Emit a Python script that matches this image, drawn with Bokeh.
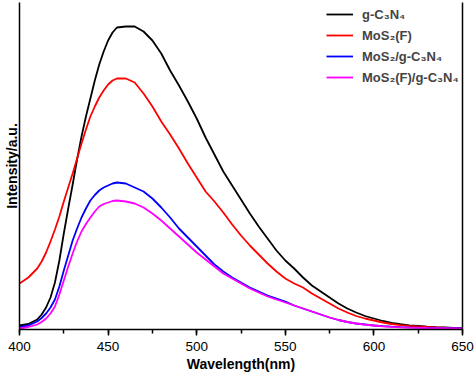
from bokeh.plotting import figure
from bokeh.models import (Range1d, LinearAxis, FixedTicker, SingleIntervalTicker,
                          Legend, LegendItem)
from bokeh.embed import file_html
from bokeh.resources import INLINE

wavelength = [400, 405, 410, 412.5, 415, 417.5, 420, 422.5, 425, 427.5,
              430, 432.5, 435, 437.5, 440, 442.5, 445, 447.5, 450, 452.5,
              455, 460, 465, 470, 475, 480, 485, 490, 495,
              500, 505, 510, 515, 520, 525, 530, 535, 540, 545,
              550, 555, 560, 565, 570, 575, 580, 585, 590, 595,
              600, 605, 610, 615, 620, 625, 630, 635, 640, 645, 650]

g_c3n4 = [3, 4.5, 9, 14, 21, 31, 46, 68, 95, 120,
          144, 169, 192, 212, 230, 248, 264, 277, 288, 296,
          301, 302, 302, 297, 288, 275, 258, 243, 227,
          210, 191, 174, 157, 143, 129, 115, 102, 90, 78,
          68, 60, 51, 43, 37, 31, 25, 20, 16, 12.5,
          10, 7.5, 5.5, 4.3, 3.2, 2.5, 1.8, 1.3, 1, 0.7, 0.5]

mos2_f = [45, 51, 60, 67, 76, 87, 99, 112, 127, 141,
          155, 170, 185, 199, 212, 222, 231, 238, 244, 248,
          250, 250, 246, 235, 222, 207, 194, 180, 165,
          151, 137, 127, 116, 104, 93, 83, 74, 65, 57,
          50, 45, 41, 35, 30, 25, 20, 16, 12.5, 10,
          8, 6, 4.5, 3.4, 2.6, 2, 1.5, 1.1, 0.8, 0.6, 0.5]

mos2_gc3n4 = [1.3, 3, 7, 10.5, 15, 21, 29, 42, 58, 73,
              88, 100, 111, 120, 128, 133.5, 138, 141, 143, 145,
              146, 145, 141, 137, 130, 121, 111, 100, 91,
              82, 73, 64, 57, 51, 46, 41, 37, 33, 30,
              27, 23, 20, 17, 14, 11, 8.5, 6.5, 5, 4,
              3, 2.3, 1.8, 1.4, 1.1, 0.9, 0.7, 0.5, 0.4, 0.3, 0.3]

mos2f_gc3n4 = [0, 1.5, 4, 6.5, 10, 15, 22, 34, 48, 62,
               75, 87, 97, 104.5, 111, 117, 122, 124.5, 126, 127.5,
               128, 127, 125, 121, 115, 108, 100, 92, 84,
               76, 69, 62, 55, 50, 45, 40, 36, 32, 29,
               26, 23, 20, 17, 14, 11, 8.5, 6.5, 5, 3.8,
               3, 2.2, 1.6, 1.2, 0.9, 0.7, 0.5, 0.4, 0.3, 0.2, 0.2]

series_names = ["g-C\u2083N\u2084", "MoS\u2082(F)", "MoS\u2082/g-C\u2083N\u2084",
                "MoS\u2082(F)/g-C\u2083N\u2084"]
series_values = [g_c3n4, mos2_f, mos2_gc3n4, mos2f_gc3n4]
series_colors = ["#000000", "#ff0000", "#0000ff", "#ff00ff"]

FONT = "Liberation Sans"

p = figure(frame_width=443, frame_height=327,
           x_range=Range1d(400, 650), y_range=Range1d(-1, 326),
           output_backend="svg", toolbar_location=None,
           min_border_left=19, min_border_right=12,
           min_border_top=2, min_border_bottom=45)
p.title.visible = False
p.grid.visible = False
p.outline_line_color = None
p.background_fill_color = "white"
p.border_fill_color = "white"

xa = p.xaxis[0]
xa.ticker = SingleIntervalTicker(interval=50, num_minor_ticks=2)
xa.axis_line_width = 1.5
xa.axis_line_color = "black"
xa.major_tick_out = 6
xa.major_tick_in = 0
xa.minor_tick_out = 4
xa.minor_tick_in = 0
xa.major_tick_line_width = 1.5
xa.minor_tick_line_width = 1.5
xa.major_tick_line_color = "black"
xa.minor_tick_line_color = "black"
xa.major_label_text_font = FONT
xa.major_label_text_font_size = "13.5px"
xa.major_label_text_color = "black"
xa.major_label_standoff = 6
xa.axis_label = "Wavelength(nm)"
xa.axis_label_text_font = FONT
xa.axis_label_text_font_style = "bold"
xa.axis_label_text_font_size = "14px"
xa.axis_label_text_color = "black"
xa.axis_label_standoff = 2

ya = p.yaxis[0]
ya.ticker = FixedTicker(ticks=[])
ya.axis_line_width = 1.5
ya.axis_line_color = "black"
ya.major_tick_out = 0
ya.major_tick_in = 0
ya.minor_tick_out = 0
ya.minor_tick_in = 0
ya.major_label_text_font_size = "0px"
ya.major_label_standoff = 0
ya.axis_label = "Intensity/a.u."
ya.axis_label_text_font = FONT
ya.axis_label_text_font_style = "bold"
ya.axis_label_text_font_size = "14px"
ya.axis_label_text_color = "black"
ya.axis_label_standoff = 0

ra = LinearAxis(ticker=FixedTicker(ticks=[]), axis_line_width=1.5,
                axis_line_color="black", major_tick_out=0, major_tick_in=0,
                minor_tick_out=0, minor_tick_in=0,
                major_label_text_font_size="0px", major_label_standoff=0)
p.add_layout(ra, "right")

items = []
for name, vals, col in zip(series_names, series_values, series_colors):
    r = p.line(wavelength, vals, line_color=col, line_width=1.8)
    items.append(LegendItem(label=name, renderers=[r]))

legend = Legend(items=items, location=(307, 244), padding=0, margin=0,
                spacing=5, glyph_width=27, glyph_height=16, label_height=16,
                label_standoff=9, label_text_font=FONT,
                label_text_font_style="bold", label_text_font_size="13px",
                border_line_color=None, background_fill_alpha=0)
p.add_layout(legend)

open("out.html", "w").write(file_html(p, INLINE))
